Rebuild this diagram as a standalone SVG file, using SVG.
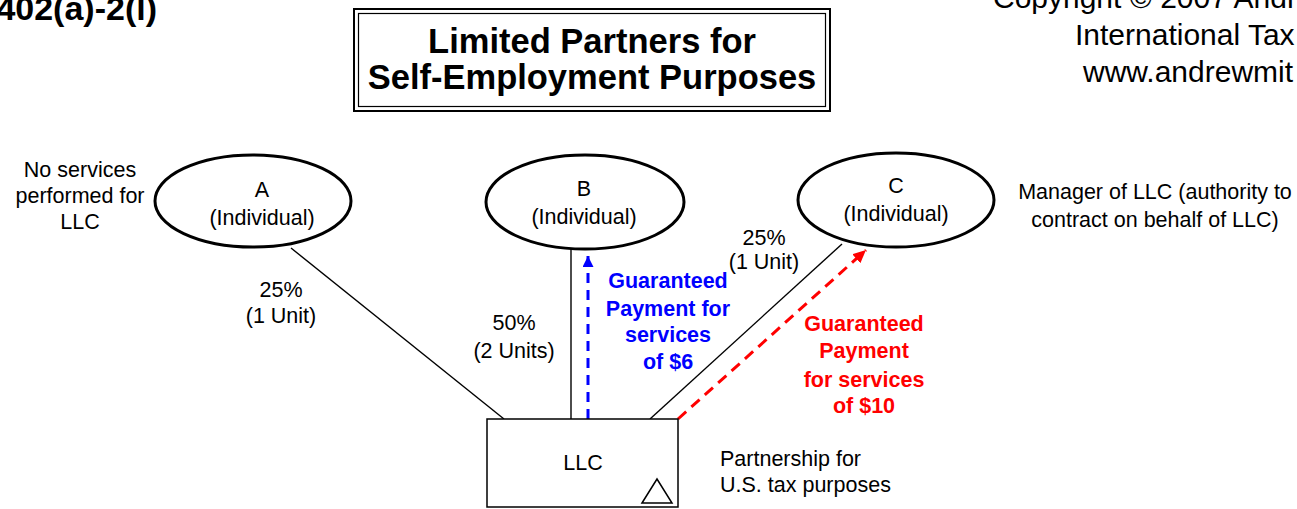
<svg xmlns="http://www.w3.org/2000/svg" width="1297" height="509" viewBox="0 0 1297 509">
<style>
text{font-family:"Liberation Sans",Arial,sans-serif;fill:#000}
.t{font-size:21.5px;text-anchor:middle}
.b{font-weight:bold}
.blue{fill:#0000FF}
.red{fill:#FF0000}
.ell{fill:#fff;stroke:#000;stroke-width:3}
.ln{stroke:#000;stroke-width:1.4;fill:none}
</style>
<defs>
<marker id="ab" markerUnits="userSpaceOnUse" markerWidth="12" markerHeight="12" refX="11" refY="5.5" orient="auto"><path d="M0,0 L11,5.5 L0,11 z" fill="#0000FF"/></marker>
<marker id="ar" markerUnits="userSpaceOnUse" markerWidth="14" markerHeight="14" refX="13" refY="6" orient="auto"><path d="M0,0 L13,6 L0,12 z" fill="#FF0000"/></marker>
</defs>
<rect width="1297" height="509" fill="#fff"/>

<g id="header">
<text x="157" y="20" font-size="34" font-weight="bold" text-anchor="end">402(a)-2(l)</text>
<text x="993" y="8" font-size="30">Copyright © 2007 Andr</text>
<text x="1075" y="45" font-size="30">International Tax</text>
<text x="1083" y="82" font-size="30">www.andrewmit</text>
</g>

<g id="title">
<rect x="354" y="9" width="476" height="102" fill="#fff" stroke="#000" stroke-width="2"/>
<rect x="358.5" y="13.5" width="467" height="93" fill="none" stroke="#000" stroke-width="1.2"/>
<text x="592" y="53" font-size="34.5" font-weight="bold" text-anchor="middle">Limited Partners for</text>
<text x="592" y="89" font-size="34.5" font-weight="bold" text-anchor="middle">Self-Employment Purposes</text>
</g>

<g id="connectors">
<line class="ln" x1="291" y1="248" x2="504" y2="419"/>
<line class="ln" x1="571" y1="249" x2="571" y2="419"/>
<line class="ln" x1="842" y1="244" x2="650" y2="419"/>
<line x1="588" y1="419" x2="588" y2="256" stroke="#0000FF" stroke-width="3" stroke-dasharray="10,7" marker-end="url(#ab)"/>
<line x1="678" y1="419" x2="866" y2="250" stroke="#FF0000" stroke-width="3" stroke-dasharray="11,7" marker-end="url(#ar)"/>
</g>

<g id="nodeA">
<ellipse class="ell" cx="253" cy="201" rx="98" ry="46"/>
<text class="t" x="262" y="197">A</text>
<text class="t" x="262" y="225">(Individual)</text>
</g>
<g id="nodeB">
<ellipse class="ell" cx="585" cy="202" rx="99" ry="47"/>
<text class="t" x="584" y="196">B</text>
<text class="t" x="584" y="224">(Individual)</text>
</g>
<g id="nodeC">
<ellipse class="ell" cx="896" cy="200" rx="98" ry="47"/>
<text class="t" x="896" y="193">C</text>
<text class="t" x="896" y="221">(Individual)</text>
</g>
<g id="nodeLLC">
<rect x="487" y="419" width="191" height="88" fill="#fff" stroke="#000" stroke-width="1.5"/>
<text class="t" x="583" y="470">LLC</text>
<path d="M642,503 L657,479 L672,503 z" fill="#fff" stroke="#000" stroke-width="1.5"/>
</g>

<g id="labels">
<text class="t" x="80" y="177">No services</text>
<text class="t" x="80" y="203">performed for</text>
<text class="t" x="80" y="229">LLC</text>
<text class="t" x="281" y="297">25%</text>
<text class="t" x="281" y="323">(1 Unit)</text>
<text class="t" x="514" y="330">50%</text>
<text class="t" x="514" y="358">(2 Units)</text>
<text class="t" x="764" y="245">25%</text>
<text class="t" x="764" y="269">(1 Unit)</text>
<text class="t" x="1155" y="199">Manager of LLC (authority to</text>
<text class="t" x="1155" y="227">contract on behalf of LLC)</text>
<text class="t b blue" x="668" y="288">Guaranteed</text>
<text class="t b blue" x="668" y="316">Payment for</text>
<text class="t b blue" x="668" y="342">services</text>
<text class="t b blue" x="668" y="369">of $6</text>
<text class="t b red" x="864" y="331">Guaranteed</text>
<text class="t b red" x="864" y="358">Payment</text>
<text class="t b red" x="864" y="387">for services</text>
<text class="t b red" x="864" y="413">of $10</text>
<text x="720" y="466" font-size="21.5">Partnership for</text>
<text x="720" y="492" font-size="21.5">U.S. tax purposes</text>
</g>
</svg>
